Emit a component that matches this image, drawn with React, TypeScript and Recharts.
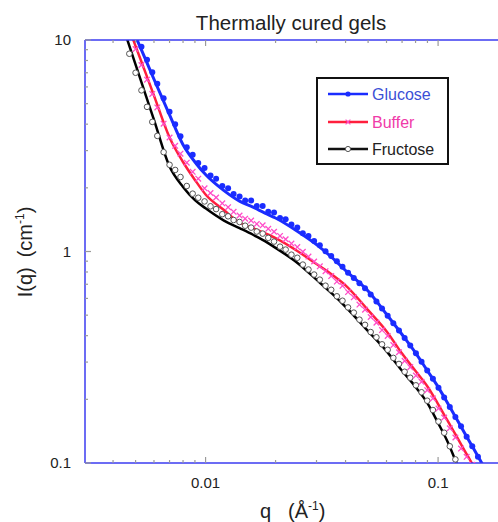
import { ComposedChart, Line, Scatter, XAxis, YAxis } from "recharts";

const FONT = "'Liberation Sans', Arial, Helvetica, sans-serif";
const FRAME = "#3b3bf0";
const TICK = "#9a9a9a";

// fitted curves
const qFit = [0.0045, 0.005, 0.0055, 0.006, 0.007, 0.008, 0.009, 0.01, 0.012, 0.014, 0.016, 0.018, 0.02, 0.025, 0.03, 0.035, 0.04, 0.05, 0.06, 0.07, 0.08, 0.09, 0.1, 0.11, 0.12, 0.13, 0.14, 0.15, 0.16];
const glucoseFit = [13.7, 10.4, 8.17, 6.52, 4.43, 3.2, 2.65, 2.31, 1.94, 1.73, 1.62, 1.52, 1.44, 1.24, 1.078, 0.935, 0.813, 0.65, 0.505, 0.405, 0.332, 0.273, 0.229, 0.1915, 0.162, 0.1386, 0.1203, 0.1054, 0.093];
const bufferFit = [12.8, 9.36, 7.07, 5.46, 3.46, 2.65, 2.18, 1.86, 1.57, 1.37, 1.29, 1.22, 1.156, 1.0, 0.872, 0.777, 0.692, 0.528, 0.42, 0.329, 0.272, 0.23, 0.19, 0.158, 0.134, 0.1145, 0.0994, 0.0868];
const fructoseFit = [10.84, 7.64, 5.58, 4.19, 2.52, 2.02, 1.75, 1.6, 1.4, 1.29, 1.2, 1.12, 1.04, 0.878, 0.736, 0.632, 0.548, 0.42, 0.338, 0.273, 0.229, 0.192, 0.1546, 0.1257, 0.1, 0.0813];

// measured points
const qData = [
  0.0047, 0.005, 0.0053, 0.0056, 0.0059, 0.0062, 0.0066, 0.007, 0.0074, 0.0078,
  0.0083, 0.0088, 0.0093, 0.0099, 0.0105, 0.0111, 0.0118, 0.0125, 0.0132, 0.014,
  0.0148, 0.0157, 0.0166, 0.0176, 0.0186, 0.0197, 0.0209, 0.0221, 0.0234, 0.0248,
  0.0262, 0.0277, 0.0293, 0.031, 0.0328, 0.0347, 0.0367, 0.0388, 0.041, 0.0434,
  0.0459, 0.0485, 0.0513, 0.0543, 0.0574, 0.0607, 0.0642, 0.0679, 0.0718, 0.0759,
  0.0803, 0.0849, 0.0898, 0.095, 0.1004, 0.1062, 0.1123, 0.1187, 0.1255, 0.1327,
  0.1403, 0.1484,
];
const glucoseData = [
  12.66, 10.78, 9.28, 8.06, 7.04, 6.21, 5.3, 4.58, 4.0, 3.51,
  3.11, 2.87, 2.62, 2.48, 2.29, 2.21, 2.04, 1.99, 1.87, 1.82,
  1.74, 1.74, 1.64, 1.64, 1.54, 1.53, 1.44, 1.42, 1.34, 1.3,
  1.22, 1.185, 1.122, 1.069, 1.003, 0.952, 0.9, 0.848, 0.793, 0.749,
  0.708, 0.67, 0.627, 0.58, 0.538, 0.497, 0.458, 0.423, 0.39, 0.359,
  0.33, 0.301, 0.274, 0.25, 0.227, 0.204, 0.184, 0.165, 0.149, 0.133,
  0.12, 0.107,
];
const bufferData = [
  10.9, 9.06, 7.62, 6.49, 5.56, 4.8, 4.02, 3.46, 3.16, 2.9,
  2.63, 2.38, 2.21, 1.99, 1.89, 1.8, 1.69, 1.62, 1.54, 1.48,
  1.43, 1.4, 1.35, 1.33, 1.28, 1.24, 1.185, 1.143, 1.09, 1.049,
  0.997, 0.946, 0.897, 0.851, 0.807, 0.765, 0.721, 0.688, 0.643, 0.607,
  0.561, 0.531, 0.49, 0.461, 0.425, 0.399, 0.361, 0.334, 0.304, 0.284,
  0.259, 0.242, 0.221, 0.202, 0.181, 0.164, 0.146, 0.132, 0.117, 0.107,
  0.098,
];
const fructoseData = [
  8.61, 7.0, 5.78, 4.83, 4.1, 3.52, 2.95, 2.57, 2.43, 2.25,
  2.04, 1.877, 1.796, 1.725, 1.636, 1.587, 1.501, 1.467, 1.409, 1.379,
  1.324, 1.297, 1.243, 1.215, 1.16, 1.114, 1.054, 1.021, 0.966, 0.934,
  0.867, 0.822, 0.778, 0.736, 0.689, 0.659, 0.614, 0.585, 0.544, 0.514,
  0.476, 0.45, 0.416, 0.393, 0.364, 0.343, 0.314, 0.294, 0.27, 0.253,
  0.233, 0.216, 0.197, 0.178, 0.157, 0.139, 0.12, 0.104, 0.089,
];

const xMajor = [0.01, 0.1];
const xMinor = [0.004, 0.005, 0.006, 0.007, 0.008, 0.009, 0.02, 0.03, 0.04, 0.05, 0.06, 0.07, 0.08, 0.09];
const yMajor = [0.1, 1, 10];
const yMinor = [0.2, 0.3, 0.4, 0.5, 0.6, 0.7, 0.8, 0.9, 2, 3, 4, 5, 6, 7, 8, 9];

const pts = (q: number[], v: number[]) => v.map((I, i) => ({ q: q[i], I }));

const XTick = ({ x, y, payload, top }: any) => {
  const major = xMajor.includes(payload.value);
  const len = major ? 6 : 3;
  const dir = top ? 1 : -1;
  return (
    <g>
      <line x1={x} x2={x} y1={y} y2={y + dir * len} stroke={TICK} strokeWidth={1.2} />
      {!top && major && (
        <text x={x} y={y + 25} textAnchor="middle" fontSize={15} fill="#222" fontFamily={FONT}>
          {payload.value}
        </text>
      )}
    </g>
  );
};

const YTick = ({ x, y, payload }: any) => {
  const major = yMajor.includes(payload.value);
  return (
    <g>
      <line x1={x} x2={x + (major ? 6 : 3)} y1={y} y2={y} stroke={TICK} strokeWidth={1.2} />
      {major && (
        <text x={71} y={y} dy={5} textAnchor="end" fontSize={15} fill="#222" fontFamily={FONT}>
          {payload.value}
        </text>
      )}
    </g>
  );
};

const BlueDot = (p: any) => <circle cx={p.cx} cy={p.cy} r={3} fill="#1a2cff" />;
const PinkMark = (p: any) => (
  <path
    d={`M${p.cx - 2.8},${p.cy - 2.8}L${p.cx + 2.8},${p.cy + 2.8}M${p.cx - 2.8},${p.cy + 2.8}L${p.cx + 2.8},${p.cy - 2.8}`}
    stroke="#ff4cc8"
    strokeWidth={1.3}
  />
);
const OpenCircle = (p: any) => (
  <circle cx={p.cx} cy={p.cy} r={2.8} fill="#fff" stroke="#555" strokeWidth={1} />
);

const App = () => {
  const xProps = {
    dataKey: "q",
    type: "number" as const,
    scale: "log" as const,
    domain: [0.00303, 0.181],
    allowDataOverflow: true,
    ticks: [...xMinor, ...xMajor],
    interval: 0,
    tickLine: false,
    tickSize: 0,
    tickMargin: 0,
    axisLine: { stroke: FRAME, strokeWidth: 1.5 },
  };

  return (
    <div style={{ position: "absolute", left: 0, top: 0, width: 498, height: 522, background: "#fff" }}>
      <ComposedChart width={498} height={522} margin={{ top: 10, right: 0, bottom: 29, left: 25 }}>
        <XAxis {...xProps} height={30} tick={(p: any) => <XTick {...p} />} />
        <XAxis {...xProps} xAxisId="top" orientation="top" height={30} tick={(p: any) => <XTick {...p} top />} />
        <YAxis
          type="number"
          scale="log"
          domain={[0.1, 10]}
          allowDataOverflow
          ticks={[...yMinor, ...yMajor]}
          interval={0}
          width={60}
          tickLine={false}
          tickSize={0}
          tickMargin={0}
          axisLine={{ stroke: FRAME, strokeWidth: 1.5 }}
          tick={(p: any) => <YTick {...p} />}
        />
        <Scatter data={pts(qData, fructoseData)} dataKey="I" shape={OpenCircle} isAnimationActive={false} />
        <Scatter data={pts(qData, bufferData)} dataKey="I" shape={PinkMark} isAnimationActive={false} />
        <Line data={pts(qFit, glucoseFit)} dataKey="I" type="monotone" stroke="#1a2cff" strokeWidth={3} dot={false} isAnimationActive={false} />
        <Scatter data={pts(qData, glucoseData)} dataKey="I" shape={BlueDot} isAnimationActive={false} />
        <Line data={pts(qFit, fructoseFit)} dataKey="I" type="monotone" stroke="#000" strokeWidth={2.5} dot={false} isAnimationActive={false} />
        <Line data={pts(qFit, bufferFit)} dataKey="I" type="monotone" stroke="#ff1f3d" strokeWidth={2.5} dot={false} isAnimationActive={false} />
      </ComposedChart>

      <svg width={498} height={522} style={{ position: "absolute", left: 0, top: 0, pointerEvents: "none" }} fontFamily={FONT}>
        <text x={291} y={29.5} textAnchor="middle" fontSize={20.5} fill="#222">
          Thermally cured gels
        </text>

        <text x={260} y={518} fontSize={20} fill="#222">
          q
        </text>
        <text x={288} y={518} fontSize={20} fill="#222">
          (Å<tspan dy={-8} fontSize={12}>-1</tspan>
          <tspan dy={8}>)</tspan>
        </text>

        <text transform="translate(32,252) rotate(-90)" textAnchor="middle" fontSize={20} fill="#222">
          I(q)
          <tspan dx={10}>(cm</tspan>
          <tspan dy={-8} fontSize={12}>-1</tspan>
          <tspan dy={8}>)</tspan>
        </text>

        <rect x={317} y={78} width={131} height={86} fill="#fff" stroke="#111" strokeWidth={2} />
        <line x1={328} x2={368} y1={94} y2={94} stroke="#1a2cff" strokeWidth={2.5} />
        <circle cx={348} cy={94} r={2.6} fill="#1a2cff" />
        <text x={372} y={100} fontSize={16} fill="#3b4fd6">
          Glucose
        </text>
        <line x1={328} x2={368} y1={122} y2={122} stroke="#ff1f3d" strokeWidth={2.5} />
        <path d="M345.6,119.6L350.4,124.4M345.6,124.4L350.4,119.6" stroke="#ff4cc8" strokeWidth={1.2} />
        <text x={372} y={128} fontSize={16} fill="#f03aa8">
          Buffer
        </text>
        <line x1={328} x2={368} y1={149} y2={149} stroke="#111" strokeWidth={2.5} />
        <circle cx={348} cy={149} r={2.6} fill="#fff" stroke="#555" strokeWidth={1} />
        <text x={372} y={155} fontSize={16} fill="#222">
          Fructose
        </text>
      </svg>
    </div>
  );
};

export default App;
